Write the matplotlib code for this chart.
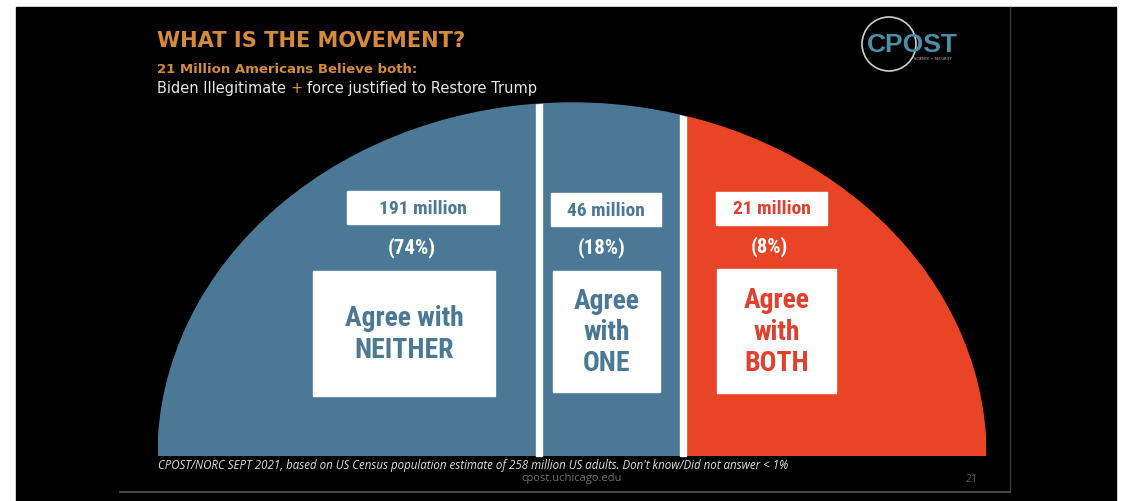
import matplotlib
matplotlib.use('Agg')
import matplotlib.pyplot as plt
from matplotlib.patches import Ellipse, Rectangle, Circle
from matplotlib import font_manager

# Survey data (CPOST/NORC Sept 2021)
groups = ['NEITHER', 'ONE', 'BOTH']
millions = [191, 46, 21]
shares = [74, 18, 8]
agree_labels = ['Agree with\nNEITHER', 'Agree\nwith\nONE', 'Agree\nwith\nBOTH']

seg_colors = ['#4b7995', '#4b7995', '#e94426']
text_colors = ['#4b7995', '#4b7995', '#e0402c']
orange = '#d68a3c'

# Layout in pixels (figure is 1122 x 501)
W, H = 1122, 501
cx, base, rx, ry = 572, 456, 414, 353
edges = [158, 539, 683, 986]
label_boxes = [(347, 191, 152, 33), (551, 193, 110, 33), (716, 192, 111, 33)]
pct_xy = [(412, 248), (602, 248), (769, 247)]
big_boxes = [(313, 271, 182, 125), (553, 271, 107, 121), (717, 269, 119, 124)]

# pick a narrow font for the labels
names = {f.name for f in font_manager.fontManager.ttflist}
narrow = 'DejaVu Sans'
for n in ['Liberation Sans Narrow', 'Roboto Condensed', 'Open Sans Condensed']:
    if n in names:
        narrow = n
        break

fig = plt.figure(figsize=(W / 100, H / 100), dpi=100)
fig.patch.set_facecolor('white')
ax = fig.add_axes([0, 0, 1, 1])
ax.set_xlim(0, W)
ax.set_ylim(H, 0)
ax.axis('off')

# slide background
ax.add_patch(Rectangle((16, 7), 1100, H - 7, color='black', zorder=0))
ax.plot([1010, 1010], [7, 492], color='#3a3a3a', lw=1, zorder=1)
ax.plot([120, 1010], [492, 492], color='#555555', lw=1.2, zorder=1)

# half ellipse split into three sections
for i in range(3):
    e = Ellipse((cx, base), 2 * rx, 2 * ry, color=seg_colors[i], zorder=2)
    ax.add_patch(e)
    clip = Rectangle((edges[i], 0), edges[i + 1] - edges[i], base, transform=ax.transData)
    e.set_clip_path(clip)

outline = Ellipse((cx, base), 2 * rx, 2 * ry, transform=ax.transData)
for x in edges[1:3]:
    d = Rectangle((x - 3, 0), 6, base, color='white', zorder=3)
    ax.add_patch(d)
    d.set_clip_path(outline)

nfont = dict(family=narrow, weight='bold')
for i in range(3):
    bx, by, bw, bh = label_boxes[i]
    ax.add_patch(Rectangle((bx, by), bw, bh, color='white', zorder=4))
    ax.text(bx + bw / 2, by + bh / 2 + 1, f'{millions[i]} million', ha='center', va='center',
            color=text_colors[i], fontsize=14, zorder=5, **nfont)
    px, py = pct_xy[i]
    ax.text(px, py, f'({shares[i]}%)', ha='center', va='center', color='white',
            fontsize=15, zorder=5, **nfont)
    bx, by, bw, bh = big_boxes[i]
    ax.add_patch(Rectangle((bx, by), bw, bh, color='white', zorder=4))
    ax.text(bx + bw / 2, by + bh / 2 + 1, agree_labels[i], ha='center', va='center',
            color=text_colors[i], fontsize=20, linespacing=1.2, zorder=5, **nfont)

# titles
ax.text(157, 41, 'WHAT IS THE MOVEMENT?', color=orange, fontsize=15.1, weight='bold',
        family='DejaVu Sans', va='center', ha='left')
ax.text(157, 69, '21 Million Americans Believe both:', color=orange, fontsize=9.5,
        weight='bold', family='DejaVu Sans', va='center', ha='left')
t1 = ax.text(157, 88, 'Biden Illegitimate ', color='#e8e8e8', fontsize=10.5,
             family='DejaVu Sans', va='center', ha='left')
fig.canvas.draw()
bb = t1.get_window_extent().transformed(ax.transData.inverted())
t2 = ax.text(bb.x1, 88, '+ ', color=orange, fontsize=10.5, family='DejaVu Sans',
             va='center', ha='left')
fig.canvas.draw()
bb = t2.get_window_extent().transformed(ax.transData.inverted())
ax.text(bb.x1, 88, 'force justified to Restore Trump', color='#e8e8e8', fontsize=10.5,
        family='DejaVu Sans', va='center', ha='left')

# logo
ax.add_patch(Circle((889, 44), 27, fill=False, ec='#d0d0d0', lw=1.2, zorder=3))
ax.text(912, 45, 'CPOST', color='#4a8fa8', fontsize=19, weight='bold',
        family='Liberation Sans', ha='center', va='center', zorder=4)
ax.text(933, 59, 'SCIENCE + SECURITY', color='#cccccc', fontsize=2.5,
        ha='center', va='center', zorder=4)

# footer
ax.text(158, 466, "CPOST/NORC SEPT 2021, based on US Census population estimate of 258 million US adults. "
        "Don't know/Did not answer < 1%", color='#e0e0e0', fontsize=8.3, style='italic',
        family='Open Sans', ha='left', va='center')
ax.text(572, 479, 'cpost.uchicago.edu', color='#707070', fontsize=8, family='Open Sans',
        ha='center', va='center')
ax.text(971, 479, '21', color='#606060', fontsize=7.5, family='Open Sans',
        ha='center', va='center')

fig.savefig('out.png', dpi=100, facecolor=fig.get_facecolor())
